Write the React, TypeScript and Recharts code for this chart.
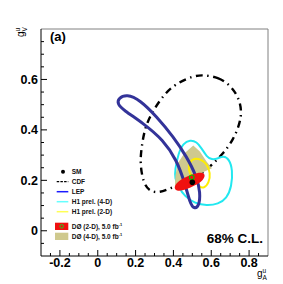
import React from "react";
import { ScatterChart, Scatter, XAxis, YAxis, ReferenceLine, Legend, Curve } from "recharts";

const W = 283;
const H = 284;
const FONT = "'Liberation Sans', Arial, Helvetica, sans-serif";

// 68% CL contours, [gA, gV]
const cdf = [
  [0.558, 0.618], [0.637, 0.609], [0.699, 0.578], [0.743, 0.532], [0.761, 0.479],
  [0.752, 0.426], [0.716, 0.36], [0.664, 0.307], [0.604, 0.261], [0.54, 0.221],
  [0.461, 0.19], [0.382, 0.169], [0.329, 0.151], [0.276, 0.155], [0.241, 0.188],
  [0.223, 0.268], [0.232, 0.333], [0.25, 0.413], [0.294, 0.479], [0.355, 0.545],
  [0.417, 0.585], [0.505, 0.614],
];
const lep = [
  [0.109, 0.525], [0.153, 0.542], [0.223, 0.519], [0.312, 0.452], [0.399, 0.373],
  [0.47, 0.294], [0.523, 0.215], [0.543, 0.15], [0.535, 0.096], [0.509, 0.087],
  [0.488, 0.109], [0.461, 0.188], [0.417, 0.281], [0.346, 0.36], [0.241, 0.426],
  [0.135, 0.479], [0.104, 0.503],
];
const h1Full = [
  [0.408, 0.241], [0.426, 0.307], [0.452, 0.347], [0.488, 0.36], [0.523, 0.353],
  [0.549, 0.327], [0.576, 0.294], [0.602, 0.281], [0.637, 0.287], [0.664, 0.297],
  [0.695, 0.284], [0.713, 0.241], [0.708, 0.175], [0.682, 0.129], [0.637, 0.106],
  [0.576, 0.1], [0.514, 0.109], [0.461, 0.135], [0.426, 0.175], [0.408, 0.208],
];
const h1Two = [
  [0.508, 0.289], [0.546, 0.283], [0.577, 0.265], [0.596, 0.229], [0.588, 0.19],
  [0.562, 0.168], [0.535, 0.174], [0.519, 0.201], [0.493, 0.217], [0.48, 0.241],
  [0.482, 0.269],
];
const d0Four = [
  [0.505, 0.338], [0.54, 0.314], [0.576, 0.274], [0.604, 0.248], [0.558, 0.233],
  [0.523, 0.213], [0.477, 0.186], [0.424, 0.166], [0.408, 0.178], [0.411, 0.221],
  [0.424, 0.269], [0.456, 0.305],
];
const d0Two = [
  [0.398, 0.172], [0.43, 0.2], [0.475, 0.217], [0.525, 0.231], [0.572, 0.23],
  [0.56, 0.2], [0.514, 0.18], [0.467, 0.163], [0.42, 0.155],
];
const d0Best = [[0.497, 0.212]];
const sm = [[0.5, 0.192]];

const xTicks = [-0.25, -0.2, -0.15, -0.1, -0.05, 0, 0.05, 0.1, 0.15, 0.2, 0.25, 0.3, 0.35, 0.4, 0.45, 0.5, 0.55, 0.6, 0.65, 0.7, 0.75, 0.8, 0.85];
const yTicks = [-0.05, 0, 0.05, 0.1, 0.15, 0.2, 0.25, 0.3, 0.35, 0.4, 0.45, 0.5, 0.55, 0.6, 0.65, 0.7, 0.75];
const xLabels = [-0.2, 0, 0.2, 0.4, 0.6, 0.8];
const yLabels = [0, 0.2, 0.4, 0.6];

const pts = (a: number[][]) => a.map(([x, y]) => ({ x, y }));
const isLabel = (list: number[], v: number) => list.some((l) => Math.abs(l - v) < 1e-6);

const X_MARGIN = 2;
const Y_MARGIN = 3;

const XTick = (props: any) => {
  const { x, y, payload } = props;
  const major = isLabel(xLabels, payload.value);
  const axisY = y - X_MARGIN;
  return (
    <g>
      <line x1={x} x2={x} y1={axisY} y2={axisY - (major ? 6 : 3)} stroke="#000" strokeWidth={1} />
      {major && (
        <text x={x} y={y} dy="0.72em" textAnchor="middle" fontFamily={FONT} fontWeight="bold" fontSize={12.5} fill="#000">
          {String(payload.value)}
        </text>
      )}
    </g>
  );
};

const YTick = (props: any) => {
  const { x, y, payload } = props;
  const major = isLabel(yLabels, payload.value);
  const axisX = x + Y_MARGIN;
  return (
    <g>
      <line x1={axisX} x2={axisX + (major ? 6 : 3)} y1={y} y2={y} stroke="#000" strokeWidth={1} />
      {major && (
        <text x={x} y={y} dy="0.36em" textAnchor="end" fontFamily={FONT} fontWeight="bold" fontSize={12.5} fill="#000">
          {String(payload.value)}
        </text>
      )}
    </g>
  );
};

const YTitle = (props: any) => {
  const { viewBox } = props;
  const x = viewBox.x + 24;
  const y = viewBox.y + 8;
  return (
    <text transform={`translate(${x},${y}) rotate(-90)`} fontFamily={FONT} fontSize={10} fill="#000">
      g<tspan fontSize={6.5} dy={-4}>u</tspan>
      <tspan fontSize={6.5} dx={-3.6} dy={7}>V</tspan>
    </text>
  );
};

const XTitle = (props: any) => {
  const { viewBox } = props;
  const x = viewBox.x + viewBox.width - 11;
  const y = viewBox.y + 21;
  return (
    <text x={x} y={y} fontFamily={FONT} fontSize={10} fill="#000">
      g<tspan fontSize={6.5} dy={-4}>u</tspan>
      <tspan fontSize={6.5} dx={-3.6} dy={7}>A</tspan>
    </text>
  );
};

const noDot = () => <g />;

const outline = (stroke: string, width: number, dash?: string) => (p: any) => (
  <Curve points={p.points} type="basisClosed" stroke={stroke} strokeWidth={width} fill="none" strokeDasharray={dash} strokeLinecap="butt" />
);

const filled = (fill: string, type: any) => (p: any) => (
  <Curve points={p.points} type={type} stroke="none" fill={fill} />
);

const legendText = { fontFamily: FONT, fontSize: 6.5, fontWeight: "bold" as const, fill: "#111" };

const LegendBox = () => (
  <svg width={80} height={78} style={{ display: "block", overflow: "visible" }}>
    <circle cx={9} cy={5.7} r={2} fill="#000" />
    <text x={17.7} y={5.7} dy="0.35em" {...legendText}>SM</text>

    <line x1={2.7} x2={14.3} y1={15.7} y2={15.7} stroke="#000" strokeWidth={1.3} strokeDasharray="2.5 1.2" />
    <text x={17.7} y={15.7} dy="0.35em" {...legendText}>CDF</text>

    <line x1={2.7} x2={14.3} y1={25.7} y2={25.7} stroke="#1a1aff" strokeWidth={1.5} />
    <text x={17.7} y={25.7} dy="0.35em" {...legendText}>LEP</text>

    <line x1={2.7} x2={14.3} y1={35.7} y2={35.7} stroke="#66ffff" strokeWidth={1.5} />
    <text x={17.7} y={35.7} dy="0.35em" {...legendText}>H1 prel. (4-D)</text>

    <line x1={2.7} x2={14.3} y1={45.7} y2={45.7} stroke="#ffff55" strokeWidth={1.5} />
    <text x={17.7} y={45.7} dy="0.35em" {...legendText}>H1 prel. (2-D)</text>

    <rect x={1} y={56.7} width={13.3} height={7.3} fill="#f01010" />
    <circle cx={7.7} cy={60.3} r={1.8} fill="none" stroke="#22cc22" strokeWidth={1} />
    <text x={17.7} y={60.3} dy="0.35em" {...legendText}>
      DØ (2-D), 5.0 fb<tspan fontSize={4} dy={-2.5}>-1</tspan>
    </text>

    <rect x={1} y={66.7} width={13.3} height={7.3} fill="#cfc98e" />
    <text x={17.7} y={70.3} dy="0.35em" {...legendText}>
      DØ (4-D), 5.0 fb<tspan fontSize={4} dy={-2.5}>-1</tspan>
    </text>
  </svg>
);

export default function App() {
  return (
    <div style={{ position: "absolute", left: 0, top: 0, width: W, height: H, background: "#fff" }}>
      <ScatterChart width={W} height={H} margin={{ top: 29, right: 15, bottom: 0, left: 0 }}>
        <XAxis
          type="number"
          dataKey="x"
          domain={[-0.3, 0.9]}
          ticks={xTicks}
          interval={0}
          allowDataOverflow
          height={28}
          tickSize={0}
          tickMargin={X_MARGIN}
          tickLine={false}
          axisLine={{ stroke: "#000", strokeWidth: 1 }}
          tick={<XTick />}
          label={<XTitle />}
        />
        <YAxis
          type="number"
          dataKey="y"
          domain={[-0.1, 0.8]}
          ticks={yTicks}
          interval={0}
          allowDataOverflow
          width={41}
          tickSize={0}
          tickMargin={Y_MARGIN}
          tickLine={false}
          axisLine={{ stroke: "#000", strokeWidth: 1 }}
          tick={<YTick />}
          label={<YTitle />}
        />
        <ReferenceLine y={0.8} stroke="#808080" strokeWidth={1} />
        <ReferenceLine x={0.9} stroke="#808080" strokeWidth={1} />

        <Scatter name="CDF" data={pts(cdf)} shape={noDot} line={outline("#000", 2.4, "7 4.5 1.5 4.5")} isAnimationActive={false} />
        <Scatter name="H1 prel. (4-D)" data={pts(h1Full)} shape={noDot} line={outline("#22e8f0", 2)} isAnimationActive={false} />
        <Scatter name="DØ (4-D)" data={pts(d0Four)} shape={noDot} line={filled("#cfc98e", "linearClosed")} isAnimationActive={false} />
        <Scatter name="H1 prel. (2-D)" data={pts(h1Two)} shape={noDot} line={outline("#ffee00", 2)} isAnimationActive={false} />
        <Scatter name="LEP" data={pts(lep)} shape={noDot} line={outline("#333399", 3)} isAnimationActive={false} />
        <Scatter name="DØ (2-D)" data={pts(d0Two)} shape={noDot} line={filled("#f01010", "basisClosed")} isAnimationActive={false} />
        <Scatter
          name="DØ best fit"
          data={pts(d0Best)}
          shape={(p: any) => <circle cx={p.cx} cy={p.cy} r={2.3} fill="none" stroke="#00c000" strokeWidth={1.2} />}
          isAnimationActive={false}
        />
        <Scatter
          name="SM"
          data={pts(sm)}
          shape={(p: any) => <circle cx={p.cx} cy={p.cy} r={2.8} fill="#000" />}
          isAnimationActive={false}
        />

        <text x={50} y={41} fontFamily={FONT} fontWeight="bold" fontSize={13} fill="#000">(a)</text>
        <text x={263} y={243} textAnchor="end" fontFamily={FONT} fontWeight="bold" fontSize={13.5} fill="#000">68% C.L.</text>

        <Legend
          layout="vertical"
          align="center"
          verticalAlign="middle"
          wrapperStyle={{ left: 54, top: 166, width: 80, height: 78 }}
          content={() => <LegendBox />}
        />
      </ScatterChart>
    </div>
  );
}
